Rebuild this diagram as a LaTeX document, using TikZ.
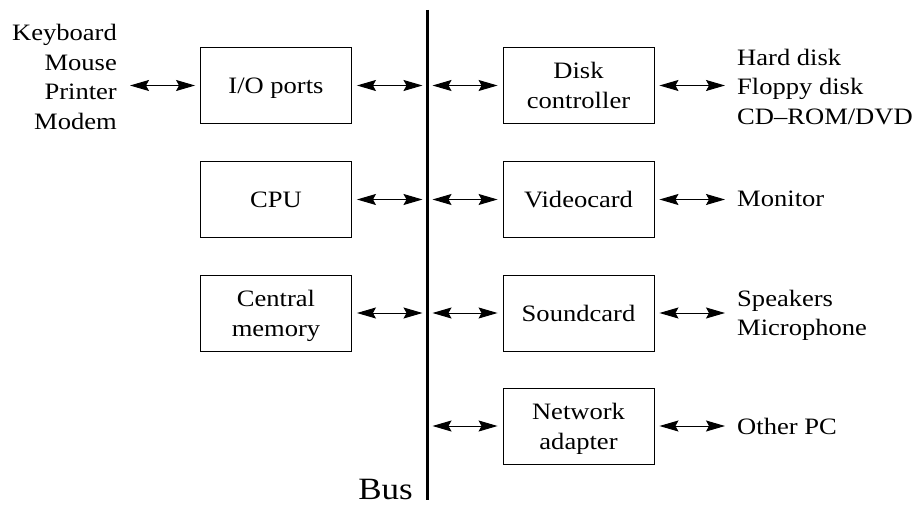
\documentclass[tikz,border=0pt]{standalone}
\usepackage{fontspec}
\setmainfont[FakeStretch=1.13]{Liberation Serif}
\usetikzlibrary{arrows.meta}
\newcommand\topstrut{\rule{0pt}{18pt}}
\tikzset{
  unit/.style={draw, line width=0.9pt, minimum width=151pt, minimum height=76pt,
    inner sep=0pt, align=center, text depth=0pt, font=\fontsize{23.5}{30}\selectfont},
  ext/.style={inner sep=0pt, font=\fontsize{23.5}{29.5}\selectfont},
  link/.style={line width=1pt,
    {Stealth[length=19pt,width=11pt,inset=3pt]}-{Stealth[length=19pt,width=11pt,inset=3pt]}},
  buslink/.style={link, shorten <=5pt, shorten >=5pt},
  busline/.style={line width=2.8pt}
}
\begin{document}
\begin{tikzpicture}[x=1pt,y=-1pt]
\useasboundingbox (0,0) rectangle (917,505);
% bus
\coordinate (bustop) at (427.5,10);
\coordinate (busbot) at (427.5,500);
\draw[busline] (bustop) -- (busbot);
\node[ext, font=\fontsize{31}{34}\selectfont, anchor=base east] (buslabel) at (413,499.5) {Bus};
% left boxes
\node[unit] (io)  at (276,85.5) {I/O ports};
\node[unit] (cpu) at (276,199.5) {CPU};
\node[unit] (mem) at (276,313) {Central\\memory};
% right boxes
\node[unit] (disk)  at (578.5,85.5) {Disk\\controller};
\node[unit] (video) at (578.5,199.5) {Videocard};
\node[unit] (sound) at (578.5,313) {Soundcard};
\node[unit] (net)   at (578.5,426) {Network\\adapter};
% external devices
\node[ext, align=right, anchor=north east] (periph) at (117,22.5)
  {\topstrut Keyboard\\Mouse\\Printer\\Modem};
\node[ext, align=left, anchor=north west] (drives) at (737,47)
  {\topstrut Hard disk\\Floppy disk\\CD\textendash ROM/DVD};
\node[ext, anchor=base west] (monitor) at (737,206.7) {Monitor};
\node[ext, align=left, anchor=north west] (audio) at (737,288)
  {\topstrut Speakers\\Microphone};
\node[ext, anchor=base west] (otherpc) at (737,434) {Other PC};
% bus connections
\draw[buslink] (io.east) -- (io.east -| bustop);
\draw[buslink] (cpu.east) -- (cpu.east -| bustop);
\draw[buslink] (mem.east) -- (mem.east -| bustop);
\draw[buslink] (disk.west -| bustop) -- (disk.west);
\draw[buslink] (video.west -| bustop) -- (video.west);
\draw[buslink] (sound.west -| bustop) -- (sound.west);
\draw[buslink] (net.west -| bustop) -- (net.west);
% external connections
\draw[link, shorten <=13pt, shorten >=5pt] (io.west -| periph.east) -- (io.west);
\draw[link, shorten <=5pt, shorten >=12pt] (disk.east) -- (disk.east -| drives.west);
\draw[link, shorten <=5pt, shorten >=12pt] (video.east) -- (video.east -| monitor.west);
\draw[link, shorten <=5pt, shorten >=12pt] (sound.east) -- (sound.east -| audio.west);
\draw[link, shorten <=5pt, shorten >=12pt] (net.east) -- (net.east -| otherpc.west);
\end{tikzpicture}
\end{document}
